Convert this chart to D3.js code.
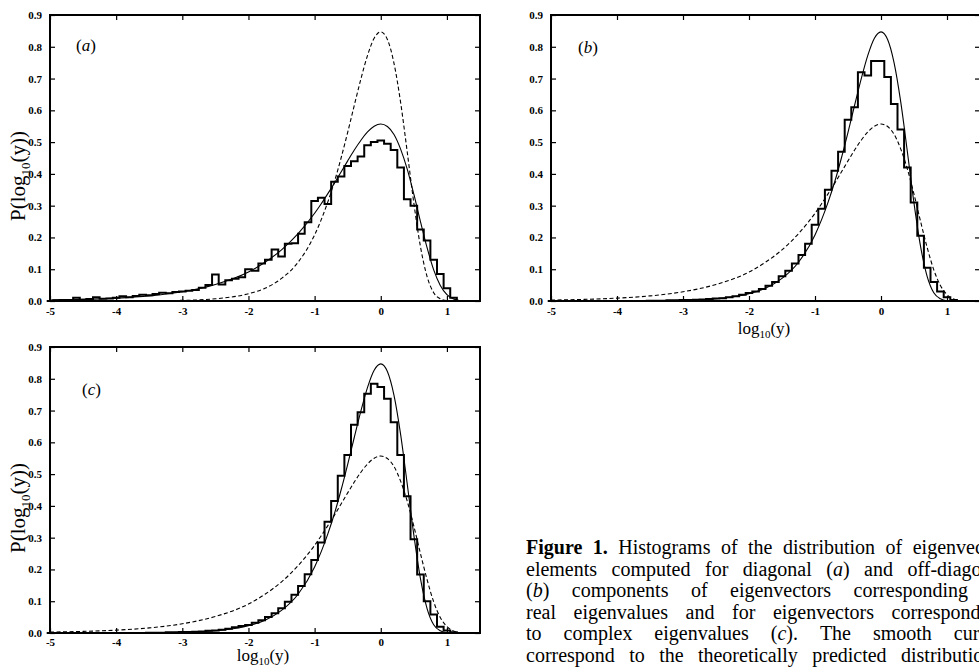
<!DOCTYPE html>
<html lang="en">
<head>
<meta charset="UTF-8" />
<title>Eigenvector element distributions</title>
<script src="https://d3js.org/d3.v7.min.js"></script>
<style>
  body { margin: 0; background: #fff; }
  svg { display: block; }
  text { font-family: 'Liberation Serif', 'DejaVu Serif', serif; fill: #000; }
</style>
</head>
<body>
<svg width="979" height="670"></svg>
<script>
// histogram bin centres (log10 y), bin width 0.1
var binCenters = [-5.0, -4.9, -4.8, -4.7, -4.6, -4.5, -4.4, -4.3, -4.2, -4.1,
  -4.0, -3.9, -3.8, -3.7, -3.6, -3.5, -3.4, -3.3, -3.2, -3.1,
  -3.0, -2.9, -2.8, -2.7, -2.6, -2.5, -2.4, -2.3, -2.2, -2.1,
  -2.0, -1.9, -1.8, -1.7, -1.6, -1.5, -1.4, -1.3, -1.2, -1.1,
  -1.0, -0.9, -0.8, -0.7, -0.6, -0.5, -0.4, -0.3, -0.2, -0.1,
  0.0, 0.1, 0.2, 0.3, 0.4, 0.5, 0.6, 0.7, 0.8, 0.9,
  1.0, 1.1, 1.2]
var binWidth = 0.1

var histA = [0.000, 0.002, 0.003, 0.003, 0.010, 0.004, 0.006, 0.012, 0.007, 0.008,
  0.010, 0.015, 0.012, 0.016, 0.020, 0.018, 0.022, 0.026, 0.024, 0.028,
  0.030, 0.032, 0.035, 0.042, 0.050, 0.083, 0.052, 0.065, 0.070, 0.075,
  0.100, 0.095, 0.118, 0.130, 0.162, 0.140, 0.180, 0.182, 0.212, 0.248,
  0.315, 0.325, 0.305, 0.375, 0.392, 0.425, 0.440, 0.455, 0.490, 0.500,
  0.505, 0.495, 0.475, 0.420, 0.320, 0.300, 0.225, 0.190, 0.130, 0.085,
  0.040, 0.010, 0.000]

var histB = [0, 0, 0, 0, 0, 0, 0, 0, 0, 0,
  0, 0, 0, 0, 0, 0.001, 0.001, 0.001, 0.002, 0.002,
  0.003, 0.003, 0.004, 0.005, 0.006, 0.008, 0.009, 0.012, 0.015, 0.020,
  0.025, 0.030, 0.038, 0.048, 0.060, 0.078, 0.095, 0.118, 0.145, 0.180,
  0.240, 0.290, 0.350, 0.410, 0.470, 0.570, 0.610, 0.720, 0.710, 0.755,
  0.755, 0.705, 0.620, 0.540, 0.420, 0.310, 0.205, 0.105, 0.060, 0.030,
  0.012, 0.003, 0.000]

var histC = [0, 0, 0, 0, 0, 0, 0, 0, 0, 0,
  0, 0, 0, 0, 0, 0.001, 0.001, 0.001, 0.002, 0.002,
  0.003, 0.003, 0.004, 0.005, 0.007, 0.008, 0.010, 0.013, 0.018, 0.022,
  0.025, 0.032, 0.040, 0.050, 0.062, 0.078, 0.098, 0.120, 0.148, 0.185,
  0.230, 0.285, 0.350, 0.415, 0.495, 0.560, 0.655, 0.695, 0.753, 0.784,
  0.774, 0.737, 0.663, 0.560, 0.430, 0.295, 0.184, 0.100, 0.058, 0.020,
  0.008, 0.002, 0.000]

// smooth theoretical curves
var curveX = [-5, -4.5, -4, -3.5, -3, -2.5, -2, -1.75, -1.5, -1.25,
  -1, -0.9, -0.8, -0.7, -0.6, -0.5, -0.4, -0.3, -0.2, -0.1,
  0, 0.1, 0.2, 0.3, 0.4, 0.5, 0.6, 0.7, 0.8, 0.9,
  1.0, 1.1, 1.2]
// low, broad curve (peak ~0.56)
var curveLow = [0.003, 0.005, 0.009, 0.016, 0.029, 0.052, 0.091, 0.122, 0.161, 0.212,
  0.276, 0.306, 0.338, 0.371, 0.406, 0.441, 0.475, 0.506, 0.532, 0.550,
  0.557, 0.549, 0.524, 0.478, 0.415, 0.336, 0.250, 0.168, 0.098, 0.049,
  0.020, 0.006, 0.001]
// high, narrow curve (peak ~0.85)
var curveHigh = [0.000, 0.000, 0.000, 0.001, 0.002, 0.007, 0.023, 0.040, 0.071, 0.122,
  0.208, 0.256, 0.312, 0.376, 0.450, 0.531, 0.616, 0.699, 0.773, 0.827,
  0.847, 0.823, 0.748, 0.625, 0.469, 0.308, 0.171, 0.077, 0.026, 0.007,
  0.001, 0.000, 0.000]

var xTicks = [-5, -4, -3, -2, -1, 0, 1]
var yTicks = [0.0, 0.1, 0.2, 0.3, 0.4, 0.5, 0.6, 0.7, 0.8, 0.9]

var captionLines = [
  ['**Figure', '**1.', 'Histograms', 'of', 'the', 'distribution', 'of', 'eigenvector'],
  ['elements', 'computed', 'for', 'diagonal', '(*a*)', 'and', 'off-diagonal'],
  ['(*b*)', 'components', 'of', 'eigenvectors', 'corresponding', 'to'],
  ['real', 'eigenvalues', 'and', 'for', 'eigenvectors', 'corresponding'],
  ['to', 'complex', 'eigenvalues', '(*c*).', 'The', 'smooth', 'curves'],
  ['correspond', 'to', 'the', 'theoretically', 'predicted', 'distributions.']
]

var svg = d3.select('svg')

var panels = [
  { tag: 'a', hist: histA, solid: curveLow, dashed: curveHigh,
    x0: 50, x1: 480, yb: 301, yt: 15, ylab: true, xlab: false,
    tagDx: 26, tagDy: 36, tickPad: 6, xlabDy: 33 },
  { tag: 'b', hist: histB, solid: curveHigh, dashed: curveLow,
    x0: 551, x1: 980, yb: 301, yt: 15, ylab: false, xlab: true,
    tagDx: 27, tagDy: 38, tickPad: 6, xlabDy: 33 },
  { tag: 'c', hist: histC, solid: curveHigh, dashed: curveLow,
    x0: 50, x1: 480, yb: 633, yt: 347, ylab: true, xlab: true,
    tagDx: 32, tagDy: 48, tickPad: 5, xlabDy: 28 }
]

panels.forEach(function(p) {
  var x = d3.scaleLinear().domain([-5, 1.5]).range([p.x0, p.x1])
  var y = d3.scaleLinear().domain([0, 0.9]).range([p.yb, p.yt])
  var g = svg.append('g')

  // axes with inward ticks
  var fmtY = function(d) { return d.toFixed(1) }
  var fmtX = function(d) { return String(d) }
  var ax = [
    d3.axisLeft(y).tickValues(yTicks).tickFormat(fmtY).tickPadding(8),
    d3.axisRight(y).tickValues(yTicks).tickFormat(''),
    d3.axisBottom(x).tickValues(xTicks).tickFormat(fmtX).tickPadding(p.tickPad),
    d3.axisTop(x).tickValues(xTicks).tickFormat('')
  ]
  var pos = [
    'translate(' + p.x0 + ',0)', 'translate(' + p.x1 + ',0)',
    'translate(0,' + p.yb + ')', 'translate(0,' + p.yt + ')'
  ]
  ax.forEach(function(a, i) {
    var ag = g.append('g').attr('transform', pos[i])
      .call(a.tickSizeInner(-5).tickSizeOuter(0))
    ag.select('.domain').remove()
    ag.selectAll('line').attr('stroke', '#000').attr('stroke-width', 1.2)
    ag.selectAll('text').style('font-family', "'Liberation Serif', serif")
      .style('font-size', '11px').style('font-weight', 'bold').attr('fill', '#000')
  })

  // histogram as a step outline
  var steps = p.hist.map(function(v, i) { return [binCenters[i] - binWidth / 2, v] })
  steps.push([binCenters[binCenters.length - 1] + binWidth / 2, p.hist[p.hist.length - 1]])
  var stepLine = d3.line()
    .x(function(d) { return x(d[0]) })
    .y(function(d) { return y(d[1]) })
    .curve(d3.curveStepAfter)
  g.append('path').attr('d', stepLine(steps))
    .attr('fill', 'none').attr('stroke', '#000').attr('stroke-width', 2)

  // smooth curves
  var smooth = d3.line()
    .x(function(d, i) { return x(curveX[i]) })
    .y(function(d) { return y(d) })
    .curve(d3.curveMonotoneX)
  g.append('path').attr('d', smooth(p.solid))
    .attr('fill', 'none').attr('stroke', '#000').attr('stroke-width', 1.1)
  g.append('path').attr('d', smooth(p.dashed))
    .attr('fill', 'none').attr('stroke', '#000').attr('stroke-width', 1.1)
    .attr('stroke-dasharray', '4,2.5')

  // frame
  g.append('rect')
    .attr('x', p.x0).attr('y', p.yt)
    .attr('width', p.x1 - p.x0).attr('height', p.yb - p.yt)
    .attr('fill', 'none').attr('stroke', '#000').attr('stroke-width', 2)

  // panel tag
  var tg = g.append('text').attr('x', p.x0 + p.tagDx).attr('y', p.yt + p.tagDy).style('font-size', '17px')
  tg.append('tspan').text('(')
  tg.append('tspan').text(p.tag).style('font-style', 'italic')
  tg.append('tspan').text(')')

  if (p.ylab) {
    var yl = g.append('text')
      .attr('transform', 'translate(' + (p.x0 - 25) + ',' + ((p.yb + p.yt) / 2 + 18) + ') rotate(-90)')
      .attr('text-anchor', 'middle').style('font-size', '21px')
    yl.append('tspan').text('P(log')
    yl.append('tspan').text('10').attr('dy', 5).style('font-size', '13px')
    yl.append('tspan').text('(y))').attr('dy', -5)
  }
  if (p.xlab) {
    var xl = g.append('text')
      .attr('x', p.x0 + 213).attr('y', p.yb + p.xlabDy)
      .attr('text-anchor', 'middle').style('font-size', '17px')
    xl.append('tspan').text('log')
    xl.append('tspan').text('10').attr('dy', 4).style('font-size', '11px')
    xl.append('tspan').text('(y)').attr('dy', -4)
  }
})

// caption, justified; the figure is cropped at the right edge as in the source
var capX = 526, capY = 554, capLead = 21.6, capW = 480
captionLines.forEach(function(words, li) {
  var row = svg.append('g')
  var nodes = words.map(function(w) {
    var t = row.append('text').attr('y', capY + li * capLead).style('font-size', '20px')
    if (w.indexOf('**') === 0) { w = w.slice(2); t.style('font-weight', 'bold') }
    w.split('*').forEach(function(part, k) {
      if (!part) return
      t.append('tspan').text(part).style('font-style', k % 2 ? 'italic' : null)
    })
    return t
  })
  var widths = nodes.map(function(n) { return n.node().getComputedTextLength() })
  var gap = (capW - d3.sum(widths)) / (nodes.length - 1)
  var cx = capX
  nodes.forEach(function(n, i) { n.attr('x', cx); cx += widths[i] + gap })
})
</script>
</body>
</html>
